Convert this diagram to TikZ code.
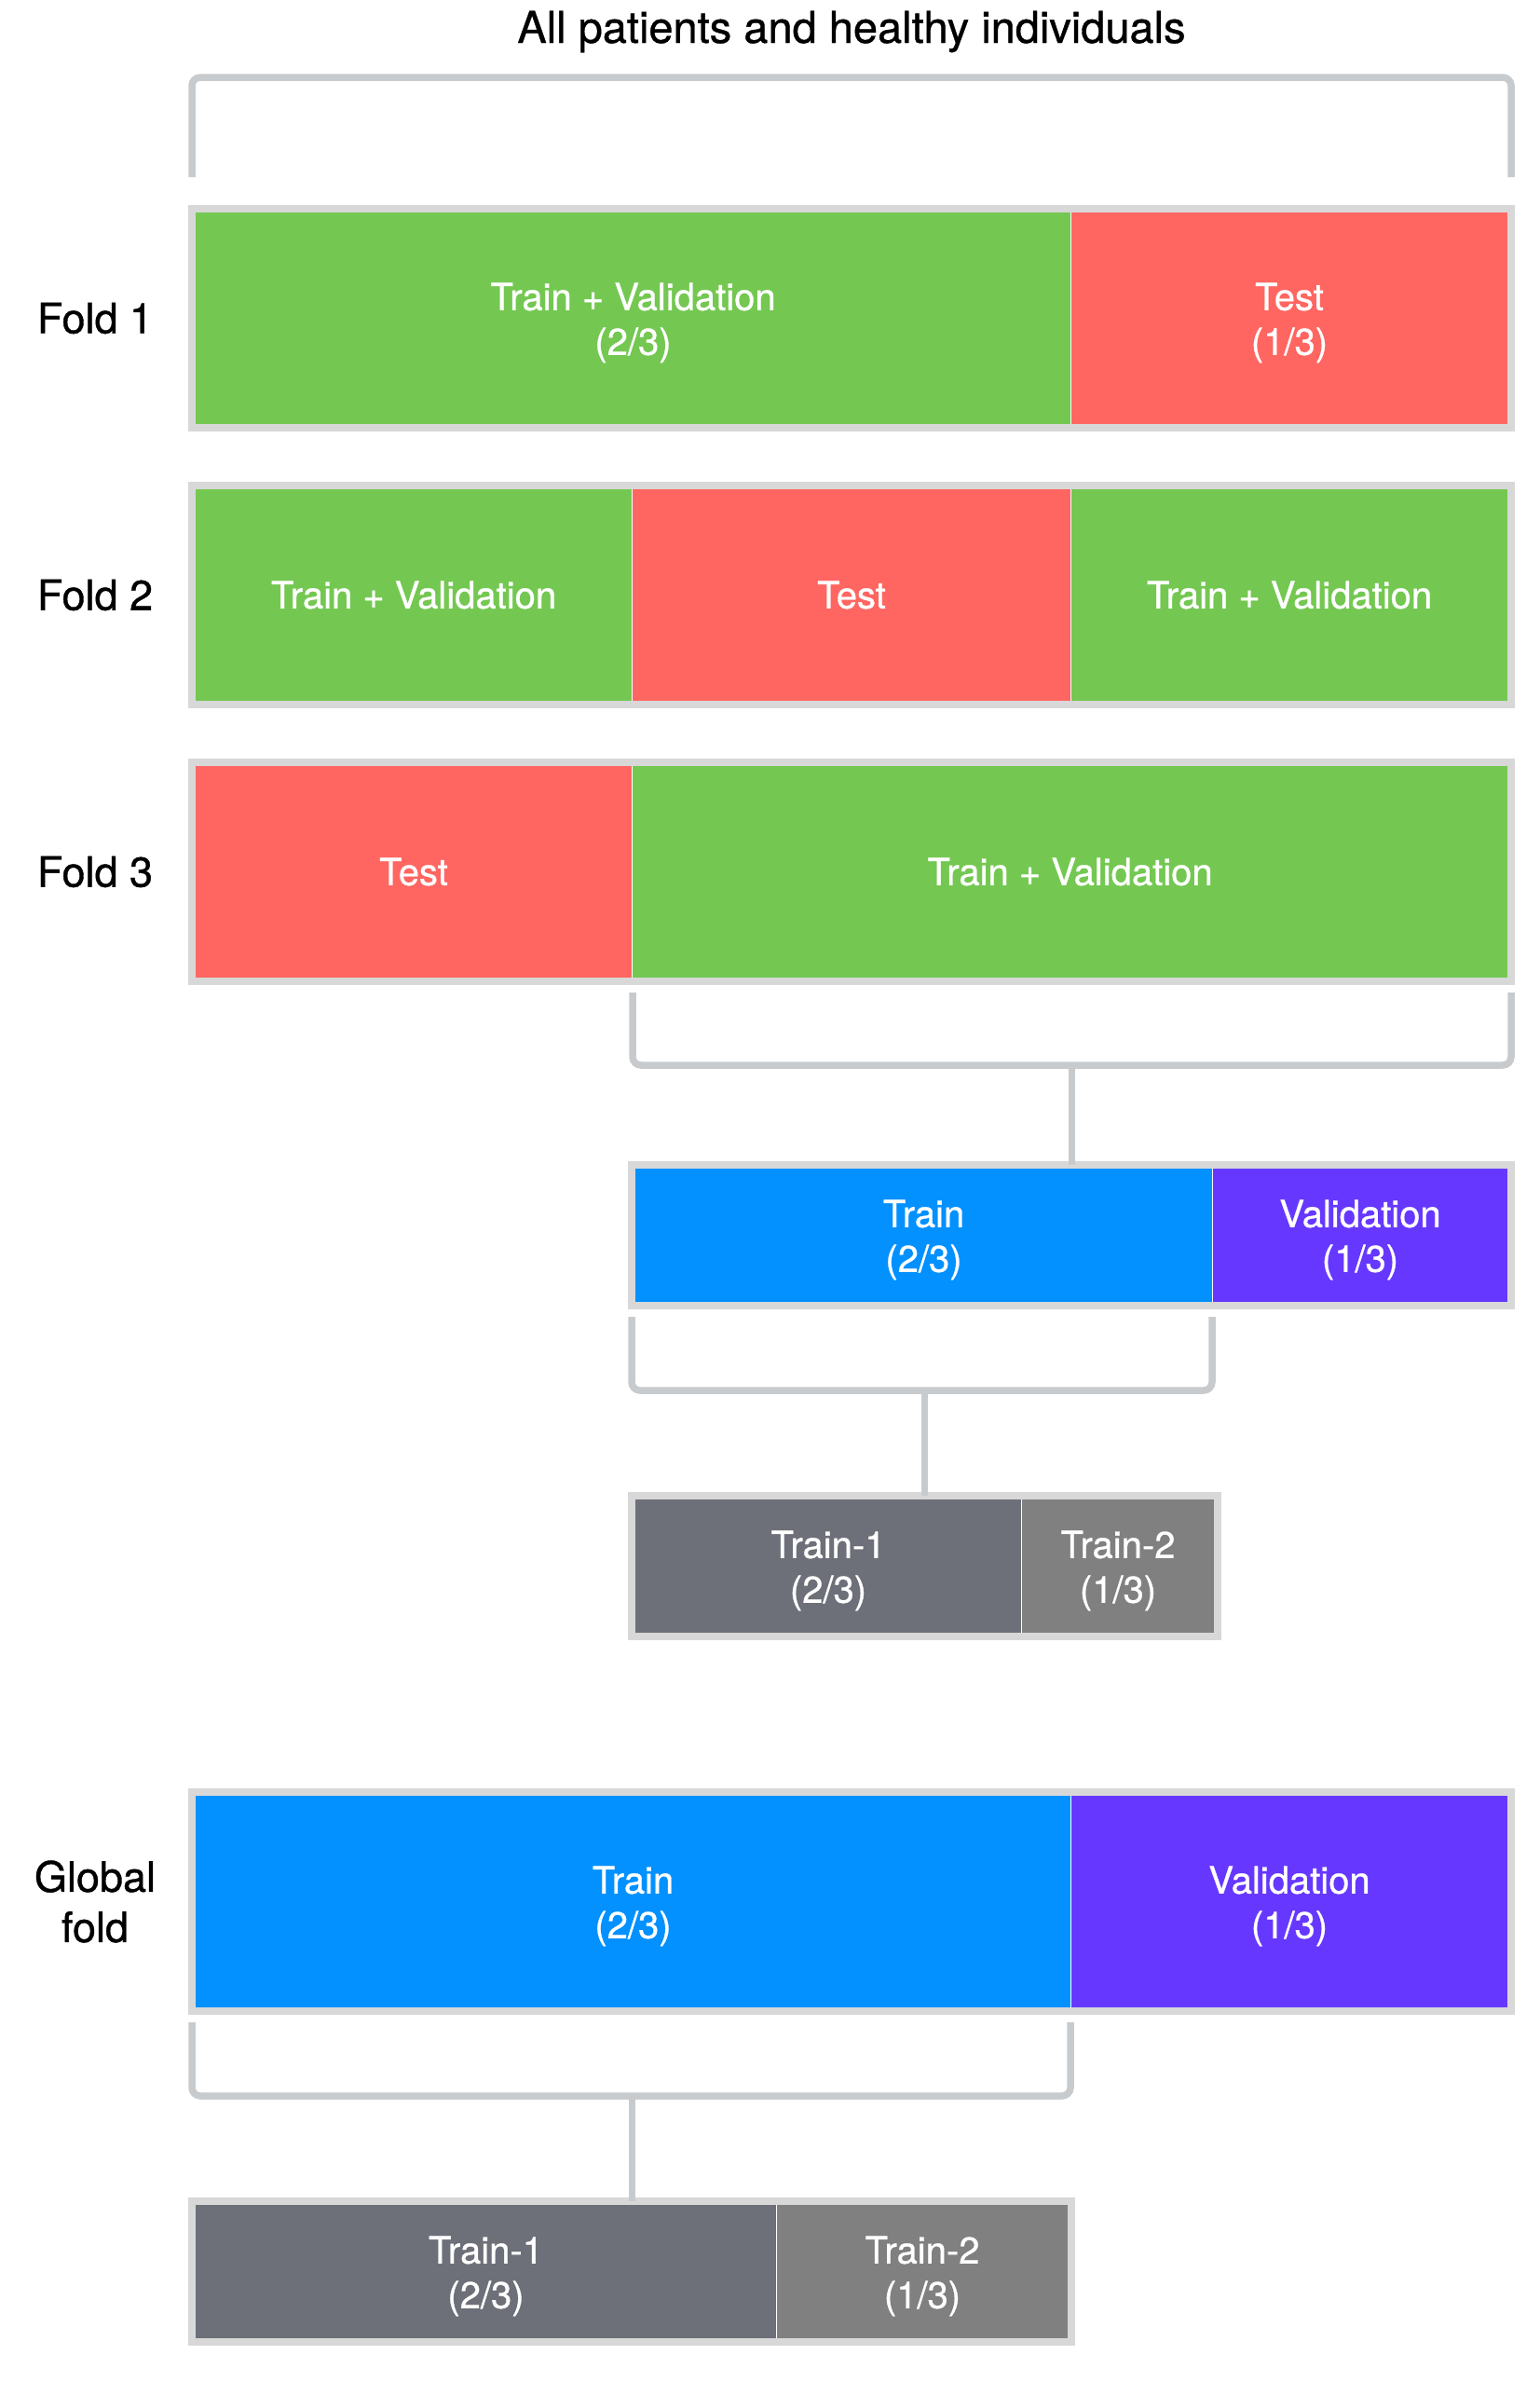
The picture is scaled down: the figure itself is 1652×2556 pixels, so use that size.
\documentclass[tikz,border=0pt]{standalone}
\usepackage{fontspec}
\setmainfont{TeX Gyre Heros}[FakeBold=0.8]
\usetikzlibrary{calc,positioning}

\definecolor{tvgreen}{HTML}{74C852}
\definecolor{testred}{HTML}{FF6661}
\definecolor{trainblue}{HTML}{0391FF}
\definecolor{valpurple}{HTML}{6638FF}
\definecolor{tonegray}{HTML}{6D7078}
\definecolor{ttwogray}{HTML}{808080}
\definecolor{framegray}{HTML}{D8D8D8}
\definecolor{bracegray}{HTML}{C8CBCE}

% two lines of a cell, with a strut on the first one
\newcommand{\twoline}[2]{\rule{0pt}{39pt}#1\\#2}

\begin{document}
\begin{tikzpicture}[x=1pt, y=-1pt, inner sep=0pt, outer sep=0pt,
    foldframe/.style={draw=framegray, line width=8pt, anchor=north west},
    cell/.style={anchor=north west, text=white, align=center, font={\fontsize{40}{48}\selectfont}},
    bracket/.style={draw=bracegray, line width=7.5pt, rounded corners=9pt},
    stemline/.style={draw=bracegray, line width=7pt},
    foldlabel/.style={align=center, font={\fontsize{45}{54}\selectfont}}]

    \path[fill=white] (0,0) rectangle (1652,2556);
    \useasboundingbox (0,0) rectangle (1652,2556);

    % fold 1
    \node[foldframe, minimum width=1416pt, minimum height=235pt] (f1) at (206,224) {};
    \node[cell, fill=tvgreen, minimum width=939pt, minimum height=227pt] (f1tv) at (210,228)
    {\twoline{Train + Validation}{(2/3)}};
    \node[cell, fill=testred, minimum width=468pt, minimum height=227pt, right=1pt of f1tv] (f1test)
    {\twoline{Test}{(1/3)}};
    \node[foldlabel] (f1_lbl) at ($(f1.west) + (-104,0)$) {Fold 1};

    % title and top bracket
    \node[foldlabel, font={\fontsize{47}{56}\selectfont}] (title) at ($(f1.north) + (0,-190)$)
    {All patients and healthy individuals};
    \draw[bracket] ($(f1.north west) + (0,-34)$) |- ($(f1.north east) + (0,-141)$)
        -- ($(f1.north east) + (0,-34)$);

    % fold 2
    \node[foldframe, minimum width=1416pt, minimum height=235pt] (f2) at (206,521) {};
    \node[cell, fill=tvgreen, minimum width=468pt, minimum height=227pt] (f2tva) at (210,525)
    {Train + Validation};
    \node[cell, fill=testred, minimum width=470pt, minimum height=227pt, right=1pt of f2tva] (f2test)
    {Test};
    \node[cell, fill=tvgreen, minimum width=468pt, minimum height=227pt, right=1pt of f2test] (f2tvb)
    {Train + Validation};
    \node[foldlabel] (f2_lbl) at ($(f2.west) + (-104,0)$) {Fold 2};

    % fold 3
    \node[foldframe, minimum width=1416pt, minimum height=235pt] (f3) at (206,818) {};
    \node[cell, fill=testred, minimum width=468pt, minimum height=227pt] (f3test) at (210,822)
    {Test};
    \node[cell, fill=tvgreen, minimum width=939pt, minimum height=227pt, right=1pt of f3test] (f3tv)
    {Train + Validation};
    \node[foldlabel] (f3_lbl) at ($(f3.west) + (-104,0)$) {Fold 3};

    % inner split of fold 3
    \coordinate (b3) at ($(f3.south east) + (0,90)$);
    \draw[bracket] ($(f3tv.south west) + (0,16)$) |- (b3) -- ($(f3.south east) + (0,12)$);

    \node[foldframe, minimum width=944pt, minimum height=151pt] (tv) at (678,1250) {};
    \node[cell, fill=trainblue, minimum width=619pt, minimum height=143pt] (tvtrain) at (682,1254)
    {\twoline{Train}{(2/3)}};
    \node[cell, fill=valpurple, minimum width=316pt, minimum height=143pt, right=1pt of tvtrain] (tvval)
    {\twoline{Validation}{(1/3)}};
    \draw[stemline] (tv.north) -- (tv.north |- b3);

    \coordinate (b4) at ($(tvtrain.south east) + (0,95)$);
    \draw[bracket] ($(tv.south west) + (0,12)$) |- (b4) -- ($(tvtrain.south east) + (0,16)$);

    \node[foldframe, minimum width=629pt, minimum height=151pt] (tt) at (678,1605) {};
    \node[cell, fill=tonegray, minimum width=414pt, minimum height=143pt] (tttone) at (682,1609)
    {\twoline{Train-1}{(2/3)}};
    \node[cell, fill=ttwogray, minimum width=206pt, minimum height=143pt, right=1pt of tttone] (tttwo)
    {\twoline{Train-2}{(1/3)}};
    \draw[stemline] (tt.north) -- (tt.north |- b4);

    % global fold
    \node[foldframe, minimum width=1416pt, minimum height=235pt] (g) at (206,1923) {};
    \node[cell, fill=trainblue, minimum width=939pt, minimum height=227pt] (gtrain) at (210,1927)
    {\twoline{Train}{(2/3)}};
    \node[cell, fill=valpurple, minimum width=468pt, minimum height=227pt, right=1pt of gtrain] (gval)
    {\twoline{Validation}{(1/3)}};
    \node[foldlabel] (g_lbl) at ($(g.west) + (-104,0)$) {Global\\fold};

    \coordinate (b5) at ($(gtrain.south east) + (0,95)$);
    \draw[bracket] ($(g.south west) + (0,12)$) |- (b5) -- ($(gtrain.south east) + (0,16)$);

    \node[foldframe, minimum width=944pt, minimum height=151pt] (bt) at (206,2362) {};
    \node[cell, fill=tonegray, minimum width=623pt, minimum height=143pt] (btone) at (210,2366)
    {\twoline{Train-1}{(2/3)}};
    \node[cell, fill=ttwogray, minimum width=312pt, minimum height=143pt, right=1pt of btone] (bttwo)
    {\twoline{Train-2}{(1/3)}};
    \draw[stemline] (bt.north) -- (bt.north |- b5);

\end{tikzpicture}
\end{document}
